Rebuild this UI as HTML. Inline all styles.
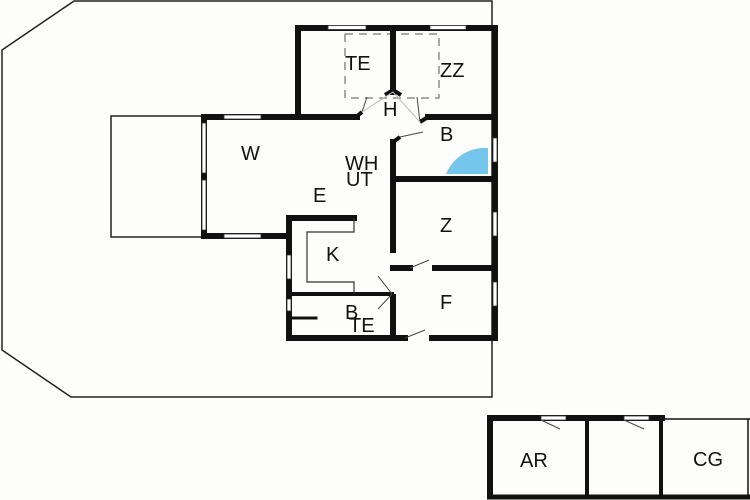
<!DOCTYPE html>
<html><head><meta charset="utf-8"><style>
html,body{margin:0;padding:0;background:#fff;width:750px;height:500px;overflow:hidden}
svg{display:block}
text{font-family:"Liberation Sans",sans-serif;font-size:20px;fill:#111}
</style></head><body>
<svg width="750" height="500" viewBox="0 0 750 500">
<rect width="750" height="500" fill="#fdfdfb"/>
<polygon points="74,1 492,1 492,397 71,397 2,350 2,50" fill="#fdfdfb" stroke="#222" stroke-width="1.5"/>
<rect x="111" y="116" width="93" height="121" fill="none" stroke="#222" stroke-width="1.5"/>
<rect x="345" y="34" width="94" height="64" fill="none" stroke="#555" stroke-width="1" stroke-dasharray="8,6"/>
<g stroke="#111" stroke-width="6" fill="none" stroke-linecap="square">
<path d="M298,117 V28 H495 V338 H432"/>
<path d="M405,338 H289 V218 H354"/>
<path d="M393,28 V92"/>
<path d="M298,117 H357"/>
<path d="M428,117 H495"/>
<path d="M298,117 H204 V236 H289"/>
<path d="M393,142 V250"/>
<path d="M393,297 V338"/>
<path d="M393,179 H495"/>
<path d="M393,268 H410 M435,268 H495"/>
<path d="M293,294 H392" stroke-width="4"/>
<path d="M293,318 H316" stroke-width="3"/>
</g>
<g stroke="#111" stroke-width="4" fill="none">
<path d="M356,117 L362,112 M385,95 L393,90 L401,95 M428,117 L420,122"/>
<path d="M393,142 L400,137"/>
</g>
<path d="M354,218 V232 H307 V282 H354 V294" fill="none" stroke="#333" stroke-width="1.2"/>
<g stroke="#444" stroke-width="1" fill="none">
<path d="M362,112 L367,97 M420,122 L417,97 M400,137 L423,132 M410,268 L429,260 M405,338 L425,330 M392,294 L378,276 M392,294 L378,309"/>
<path d="M362,112 L393,92 L420,122" stroke="#bbb"/>
</g>
<g fill="#fff" stroke="#333" stroke-width="0.8">
<rect x="328" y="25.5" width="38" height="4"/>
<rect x="430" y="25.5" width="36" height="4"/>
<rect x="224" y="115" width="37" height="4"/>
<rect x="224" y="234" width="37" height="4"/>
<rect x="202" y="123" width="4" height="50"/>
<rect x="202" y="180" width="4" height="50"/>
<rect x="493" y="138" width="4" height="24"/>
<rect x="493" y="212" width="4" height="24"/>
<rect x="493" y="282" width="4" height="24"/>
<rect x="287" y="255" width="4" height="24"/>
<rect x="287" y="299" width="4" height="12"/>
</g>
<path d="M446,174 A42,42 0 0 1 488,148 V174 Z" fill="#74c6ec"/>
<text x="345" y="70">TE</text>
<text x="440" y="77">ZZ</text>
<text x="383" y="116">H</text>
<text x="440" y="141">B</text>
<text x="241" y="160">W</text>
<text x="345" y="170">WH</text>
<text x="346" y="186">UT</text>
<text x="313" y="202">E</text>
<text x="440" y="232">Z</text>
<text x="326" y="261">K</text>
<text x="440" y="309">F</text>
<text x="345" y="319">B</text>
<text x="349" y="332">TE</text>
<g stroke="#111" fill="none">
<path d="M490,497 V418 H665" stroke-width="6"/>
<path d="M587,418 V497 M661,418 V497" stroke-width="4"/>
<path d="M487,497 H750" stroke-width="5"/>
<path d="M665,419 H750 M748,419 V497" stroke-width="1.5"/>
</g>
<g fill="#fff" stroke="#333" stroke-width="0.8">
<rect x="541" y="416" width="25" height="4"/>
<rect x="624" y="416" width="25" height="4"/>
</g>
<g stroke="#444" stroke-width="1"><path d="M541,420 L560,429 M624,420 L644,429"/></g>
<text x="520" y="467">AR</text>
<text x="693" y="466">CG</text>
</svg>
</body></html>
